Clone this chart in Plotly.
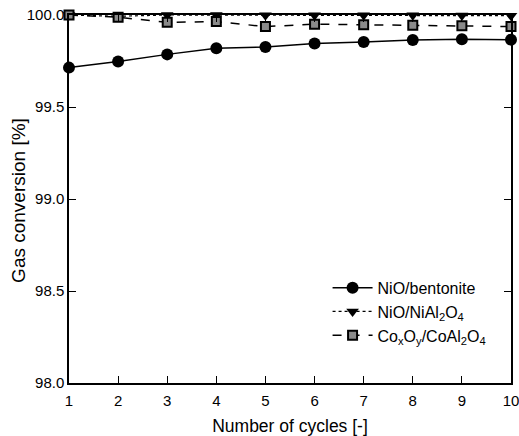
import plotly.graph_objects as go

cycles = [1, 2, 3, 4, 5, 6, 7, 8, 9, 10]
nio_bentonite = [99.714, 99.747, 99.786, 99.819, 99.826, 99.845, 99.853, 99.864, 99.868, 99.866]
nio_nial2o4 = [100.0, 99.993, 100.0, 100.0, 99.998, 99.999, 99.998, 99.998, 99.997, 99.996]
coxoy_coal2o4 = [100.0, 99.988, 99.96, 99.964, 99.937, 99.95, 99.947, 99.944, 99.942, 99.937]

y_ticks = [98.0, 98.5, 99.0, 99.5, 100.0]
y_ticklabels = ["98.0", "98.5", "99.0", "99.5", "100.0"]

names = ["NiO/bentonite", "NiO/NiAl<sub>2</sub>O<sub>4</sub>",
         "Co<sub>x</sub>O<sub>y</sub>/CoAl<sub>2</sub>O<sub>4</sub>"]

fig = go.Figure()
fig.add_trace(go.Scatter(
    x=cycles, y=nio_bentonite, name=names[0], mode="lines+markers",
    line=dict(color="black", width=1.5, dash="solid"),
    marker=dict(symbol="circle", size=12, color="black"),
    cliponaxis=False))
fig.add_trace(go.Scatter(
    x=cycles, y=nio_nial2o4, name=names[1], mode="lines+markers",
    line=dict(color="black", width=1.2, dash="dot"),
    marker=dict(symbol="triangle-down", size=11, color="black"),
    cliponaxis=False))
fig.add_trace(go.Scatter(
    x=cycles, y=coxoy_coal2o4, name=names[2], mode="lines+markers",
    line=dict(color="black", width=1.5, dash="dash"),
    marker=dict(symbol="square", size=9, color="#8a8a8a",
                line=dict(color="black", width=2)),
    cliponaxis=False))

fig.update_layout(
    width=519, height=436,
    margin=dict(l=69, r=8, t=15, b=53, autoexpand=False),
    paper_bgcolor="white", plot_bgcolor="white",
    font=dict(family="Liberation Sans, Arial, sans-serif", size=14, color="black"),
    showlegend=True,
    legend=dict(x=0.585, y=0.305, xanchor="left", yanchor="top",
                bgcolor="rgba(0,0,0,0)", font=dict(size=16, color="black"),
                itemwidth=40, tracegroupgap=0),
    annotations=[dict(text="Gas conversion [%]", textangle=-90,
                      xref="paper", yref="paper", x=-0.113, y=0.495,
                      xanchor="center", yanchor="middle", showarrow=False,
                      font=dict(size=19, color="black"))],
)
fig.update_xaxes(
    range=[1, 10], tickmode="array", tickvals=cycles,
    ticks="inside", ticklen=7, tickwidth=1.2, tickcolor="black",
    showline=True, linecolor="black", linewidth=1.5, mirror="ticks",
    showgrid=False, zeroline=False, automargin=False, ticklabeloverflow="allow",
    ticklabelstandoff=3,
    title=dict(text="Number of cycles [-]", font=dict(size=17.5, color="black"), standoff=14),
    tickfont=dict(size=15, color="black"))
fig.update_yaxes(
    range=[98.0, 100.0], tickmode="array", tickvals=y_ticks, ticktext=y_ticklabels,
    ticks="inside", ticklen=7, tickwidth=1.2, tickcolor="black",
    showline=True, linecolor="black", linewidth=1.5, mirror="ticks",
    showgrid=False, zeroline=False, automargin=False, ticklabeloverflow="allow",
    tickfont=dict(size=15, color="black"))

fig.write_html("out.html", config={"displayModeBar": False},
               post_script="document.body.style.margin='0';document.body.style.overflow='hidden';")
